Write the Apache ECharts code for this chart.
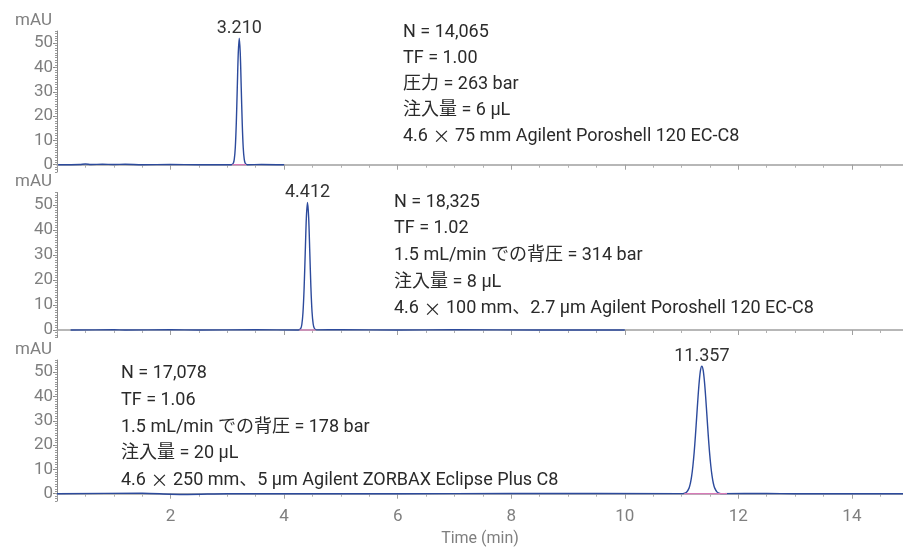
<!DOCTYPE html>
<html><head><meta charset="utf-8">
<script src="https://cdn.jsdelivr.net/npm/echarts@6/dist/echarts.min.js"></script>
<style>html,body{margin:0;padding:0;background:#fff}#c{width:903px;height:548px}</style>
</head><body><div id="c"></div>
<script>
// ---- data (time in min, signal in mAU) ----
const trace1 = [[0.02,0],[0.4,0.1],[0.5,0.3],[0.6,0.1],[0.8,0.2],[1.0,0.1],[1.2,0.2],[1.5,0],[2.0,0.1],[2.5,0],[3.07,0],
 [3.105,0.6],[3.1225,2.3],[3.14,7.0],[3.1575,16.9],[3.175,31.5],[3.1925,45.9],[3.21,52.0],[3.2275,45.9],[3.245,31.5],
 [3.2625,16.9],[3.28,7.0],[3.2975,2.3],[3.315,0.6],[3.35,0],[3.6,0.1],[4.0,0]];
const trace2 = [[0.24,0],[1.0,0.1],[1.2,0],[2.0,0.1],[2.5,0],[3.5,0.1],[4.25,0],[4.292,0.6],[4.312,2.2],[4.332,6.9],
 [4.352,16.6],[4.372,30.9],[4.392,45.0],[4.412,51.0],[4.432,45.2],[4.452,31.3],[4.472,17.0],[4.492,7.2],[4.512,2.4],
 [4.532,0.7],[4.572,0.05],[5.0,0.1],[6.0,0],[7.0,0.1],[8.5,0],[10.0,0]];
const trace3 = [[0,0],[1.5,0.2],[2.0,-0.2],[2.3,-0.3],[3.0,0],[6.0,0],[8.0,0.1],[10.997,0.02],[11.042,0.11],[11.087,0.58],
 [11.132,2.3],[11.1545,4.2],[11.177,7.1],[11.1995,11.4],[11.222,17.0],[11.2445,24.0],[11.267,31.8],[11.2895,39.6],
 [11.312,46.3],[11.3345,50.9],[11.357,52.5],[11.3795,50.9],[11.402,46.4],[11.4245,39.8],[11.447,32.0],[11.4695,24.2],
 [11.492,17.2],[11.5145,11.6],[11.537,7.3],[11.5595,4.3],[11.582,2.4],[11.627,0.65],[11.672,0.13],[11.717,0.03],
 [12.5,0.1],[13.0,0],[14.9,0]];
const baseline1 = [[3.09,0],[3.33,0]];
const baseline2 = [[4.27,0],[4.55,0]];
const baseline3 = [[11.05,0],[11.8,0]];
const peaks = [[3.21,52.0,'3.210'],[4.412,51.0,'4.412'],[11.357,52.5,'11.357']];
const yTicks = [0,10,20,30,40,50];
const text1 = ['N = 14,065','TF = 1.00','圧力 = 263 bar','注入量 = 6 µL','4.6 × 75 mm Agilent Poroshell 120 EC-C8'];
const text2 = ['N = 18,325','TF = 1.02','1.5 mL/min での背圧 = 314 bar','注入量 = 8 µL','4.6 × 100 mm、2.7 µm Agilent Poroshell 120 EC-C8'];
const text3 = ['N = 17,078','TF = 1.06','1.5 mL/min での背圧 = 178 bar','注入量 = 20 µL','4.6 × 250 mm、5 µm Agilent ZORBAX Eclipse Plus C8'];

const FONT = 'Roboto, "Noto Sans CJK JP", sans-serif';
const GRAY = '#7f7f7f';
const BLUE = '#2c4a9c';
const PINK = '#d77ab8';
const grids = [
  {left:57, right:0, top:31, height:141, outerBoundsMode:'none', containLabel:false},
  {left:57, right:0, top:192.5, height:145, outerBoundsMode:'none', containLabel:false},
  {left:57, right:0, top:360, height:141, outerBoundsMode:'none', containLabel:false}
];
const xAxes = [], yAxes = [], series = [];
const traces = [trace1, trace2, trace3];
const bases = [baseline1, baseline2, baseline3];
grids.forEach((g,i)=>{
  xAxes.push({gridIndex:i, type:'value', min:0, max:14.9, interval:2,
    axisLine:{show:true, lineStyle:{color:'#a0a0a0', width:1.5}},
    axisTick:{show:true, length:5, lineStyle:{color:'#a0a0a0'}},
    minorTick:{show:true, splitNumber:4, length:3, lineStyle:{color:'#b0b0b0'}},
    splitLine:{show:false},
    axisLabel:{show:i===2, showMinLabel:false, showMaxLabel:false, color:GRAY, fontSize:17, fontFamily:FONT, margin:7},
    name: i===2 ? 'Time (min)' : '', nameLocation:'middle', nameGap:30,
    nameTextStyle:{color:GRAY, fontSize:16, fontFamily:FONT}
  });
  yAxes.push({gridIndex:i, type:'value', min:-3, max:55, position:'left',
    axisLine:{show:true, lineStyle:{color:'#8a8a8a', width:1}},
    axisTick:{show:true, length:4, customValues:yTicks, lineStyle:{color:'#8a8a8a'}},
    splitLine:{show:false},
    axisLabel:{customValues:yTicks, color:GRAY, fontSize:17, fontFamily:FONT, margin:4},
    name:'mAU', nameLocation:'end', nameGap:2,
    nameTextStyle:{color:GRAY, fontSize:17, fontFamily:FONT, align:'right', verticalAlign:'bottom', padding:[0,5,0,0]}
  });
  yAxes.push({gridIndex:i, type:'value', min:-3, max:55, interval:1, position:'left', offset:0,
    axisLine:{show:false}, axisLabel:{show:false}, splitLine:{show:false},
    axisTick:{show:true, length:2, lineStyle:{color:'#9a9a9a'}}
  });
  series.push({type:'line', xAxisIndex:i, yAxisIndex:i*2, data:traces[i], showSymbol:false, symbol:'none',
    smooth:0.3, lineStyle:{color:BLUE, width:1.4}, z:3,
    markPoint:{symbol:'circle', symbolSize:0, silent:true,
      label:{show:true, position:'top', distance:1, color:'#333', fontSize:18, fontFamily:FONT, formatter:p=>p.name},
      data:[{coord:[peaks[i][0], peaks[i][1]], name:peaks[i][2]}]}
  });
  series.push({type:'line', xAxisIndex:i, yAxisIndex:i*2, data:bases[i], showSymbol:false, symbol:'none',
    lineStyle:{color:PINK, width:1.2}, z:4});
});
const mkText = (lines, x, y, lh) => ({type:'text', left:x, top:y,
  style:{text:lines.map(s=>s.replace('×','{x|×}')).join('\n'), font:'18px '+FONT, fill:'#2a2a2a', lineHeight:lh,
    rich:{x:{fontFamily:'"Noto Sans CJK JP"', fontSize:18, fill:'#2a2a2a', lineHeight:lh}}}});
const chart = echarts.init(document.getElementById('c'));
chart.setOption({
  animation:false,
  grid:grids, xAxis:xAxes, yAxis:yAxes, series:series,
  graphic:[mkText(text1,403,19,26), mkText(text2,394,189,26.6), mkText(text3,121,360,26.8)]
});
</script></body></html>
